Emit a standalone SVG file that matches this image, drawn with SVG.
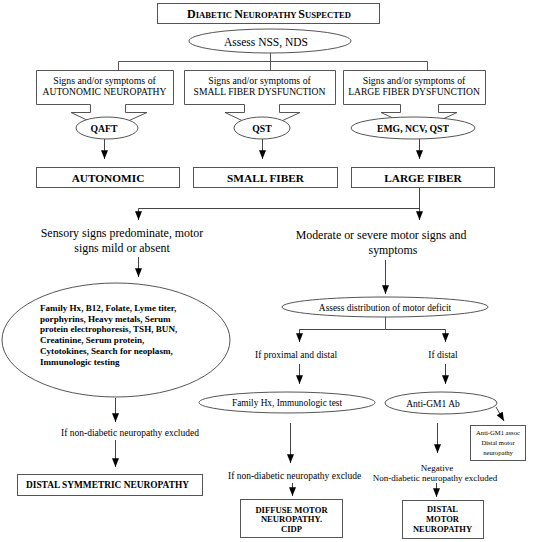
<svg xmlns="http://www.w3.org/2000/svg" width="550" height="542" viewBox="0 0 550 542">
<defs>
<marker id="ah" viewBox="0 0 10 8" markerWidth="9" markerHeight="7" refX="10" refY="4" orient="auto" markerUnits="userSpaceOnUse">
<path d="M0,0 L10,4 L0,8 z" fill="#000"/>
</marker>
</defs>
<style>
.bx{fill:#fff;stroke:#555;stroke-width:1}
.ln{fill:none;stroke:#555;stroke-width:1}
.ar{fill:none;stroke:#444;stroke-width:1;marker-end:url(#ah)}
text{font-family:"Liberation Serif","Times New Roman",serif;fill:#000}
.c{text-anchor:middle}
.b{font-weight:bold}
</style>
<rect width="550" height="542" fill="#fff"/>

<g id="connectors">
<path class="ln" d="M270.5,53 V70"/>
<path class="ln" d="M118.5,70 V61.5 H427.5 V70"/>
<path class="ar" d="M104.5,139 V159"/>
<path class="ar" d="M262.5,139 V159"/>
<path class="ar" d="M419.5,139 V159"/>
<path class="ar" d="M419.5,187 V220"/>
<path class="ar" d="M419.5,208.5 H138.5 V220"/>
<path class="ar" d="M138.5,257 V277"/>
<path class="ar" d="M385.5,260 V294"/>
<path class="ln" d="M385.5,317 V329.5"/>
<path class="ar" d="M385.5,329.5 H299.5 V342"/>
<path class="ar" d="M385.5,329.5 H445.5 V342"/>
<path class="ar" d="M299.5,364 V384"/>
<path class="ar" d="M445.5,364 V384"/>
<path class="ar" d="M115.5,398 V422"/>
<path class="ar" d="M115.5,440 V467"/>
<path class="ar" d="M290.5,423 V463"/>
<path class="ar" d="M292.5,483 V496"/>
<path class="ar" d="M437.5,423 V453"/>
<path class="ar" d="M436.5,483 V497"/>
<path class="ar" d="M496,407 L504,421"/>
</g>

<g id="n-suspected">
<rect class="bx" x="157.5" y="3.5" width="222" height="20"/>
<text class="c b" x="269" y="17.5"><tspan font-size="12">D</tspan><tspan font-size="8.6">IABETIC </tspan><tspan font-size="12">N</tspan><tspan font-size="8.6">EUROPATHY </tspan><tspan font-size="12">S</tspan><tspan font-size="8.6">USPECTED</tspan></text>
</g>

<g id="n-assess">
<ellipse class="bx" cx="270" cy="41" rx="81" ry="12"/>
<text class="c" x="266" y="45.5" font-size="11.5">Assess NSS, NDS</text>
</g>

<g id="n-autonomic-signs">
<path class="bx" d="M36.5,70.5 H173.5 V104.5 H125.5 V112.5 H147 L108,130 L71,112.5 H90.5 V104.5 H36.5 Z"/>
<text class="c" x="104.5" y="83.5" font-size="9.8">Signs and/or symptoms of</text>
<text class="c" x="104.5" y="95" font-size="9.6">AUTONOMIC NEUROPATHY</text>
</g>

<g id="n-small-signs">
<path class="bx" d="M184.5,70.5 H335.5 V104.5 H279.5 V112.5 H300 L262,130 L225,112.5 H244.5 V104.5 H184.5 Z"/>
<text class="c" x="259.5" y="83.5" font-size="9.8">Signs and/or symptoms of</text>
<text class="c" x="259.5" y="95" font-size="9.6">SMALL FIBER DYSFUNCTION</text>
</g>

<g id="n-large-signs">
<path class="bx" d="M343.5,70.5 H485.5 V104.5 H438.5 V112.5 H457 L419,130 L381,112.5 H400.5 V104.5 H343.5 Z"/>
<text class="c" x="414" y="83.5" font-size="9.8">Signs and/or symptoms of</text>
<text class="c" x="414" y="95" font-size="9.6">LARGE FIBER DYSFUNCTION</text>
</g>

<g id="n-qaft">
<ellipse class="bx" cx="107" cy="128" rx="31" ry="11"/>
<text class="c b" x="104" y="131.5" font-size="9.7">QAFT</text>
</g>
<g id="n-qst">
<ellipse class="bx" cx="262" cy="128" rx="28" ry="11"/>
<text class="c b" x="262" y="131.5" font-size="9.7">QST</text>
</g>
<g id="n-emg">
<ellipse class="bx" cx="413" cy="128" rx="62" ry="11"/>
<text class="c b" x="413" y="131.5" font-size="9.7">EMG, NCV, QST</text>
</g>

<g id="n-autonomic">
<rect class="bx" x="36.5" y="167.5" width="143" height="20"/>
<text class="c b" x="108" y="181.5" font-size="11.3">AUTONOMIC</text>
</g>
<g id="n-small">
<rect class="bx" x="193.5" y="167.5" width="144" height="20"/>
<text class="c b" x="265.5" y="181.5" font-size="11.3">SMALL FIBER</text>
</g>
<g id="n-large">
<rect class="bx" x="351.5" y="167.5" width="143" height="20"/>
<text class="c b" x="423" y="181.5" font-size="11.3">LARGE FIBER</text>
</g>

<g id="n-sensory">
<text class="c" x="122" y="237" font-size="11.9">Sensory signs predominate, motor</text>
<text class="c" x="122" y="252" font-size="11.9">signs mild or absent</text>
</g>
<g id="n-motor">
<text class="c" x="381" y="239" font-size="11.9">Moderate or severe motor signs and</text>
<text class="c" x="393" y="254" font-size="11.9">symptoms</text>
</g>

<g id="n-tests">
<ellipse class="bx" cx="116" cy="340" rx="114" ry="57"/>
<g class="b" font-size="9.1">
<text x="40" y="310.5">Family Hx, B12, Folate, Lyme titer,</text>
<text x="40" y="321.5">porphyrins, Heavy metals, Serum</text>
<text x="40" y="332">protein electrophoresis, TSH, BUN,</text>
<text x="40" y="342.5">Creatinine, Serum protein,</text>
<text x="40" y="353.5">Cytotokines, Search for neoplasm,</text>
<text x="40" y="364.5">Immunologic testing</text>
</g>
</g>

<g id="n-excl-left">
<text class="c" x="130" y="435.5" font-size="9.5">If non-diabetic neuropathy excluded</text>
</g>
<g id="n-dsn">
<rect class="bx" x="17.5" y="474.5" width="185" height="21"/>
<text class="c b" x="107.5" y="488" font-size="9.4">DISTAL SYMMETRIC NEUROPATHY</text>
</g>

<g id="n-distribution">
<ellipse class="bx" cx="385" cy="307" rx="103" ry="10"/>
<text class="c" x="385" y="310.5" font-size="9.4">Assess distribution of motor deficit</text>
</g>
<g id="n-proximal">
<text class="c" x="296" y="357.5" font-size="9.5">If proximal and distal</text>
</g>
<g id="n-distal">
<text class="c" x="443" y="357.5" font-size="9.5">If distal</text>
</g>

<g id="n-familyhx">
<ellipse class="bx" cx="287" cy="402.5" rx="88" ry="10.5"/>
<text class="c" x="287" y="406" font-size="9.3">Family Hx, Immunologic test</text>
</g>
<g id="n-antigm1">
<ellipse class="bx" cx="441" cy="403" rx="56" ry="11"/>
<text class="c" x="433" y="406.5" font-size="9.5">Anti-GM1  Ab</text>
</g>
<g id="n-antigm1-assoc">
<rect class="bx" x="470.5" y="425.5" width="55" height="35"/>
<text class="c" x="498" y="434.5" font-size="6.6">Anti-GM1 assoc</text>
<text class="c" x="498" y="444.5" font-size="6.6">Distal motor</text>
<text class="c" x="498" y="454.5" font-size="6.6">neuropathy</text>
</g>

<g id="n-excl-mid">
<text x="228" y="478.5" font-size="9.5">If non-diabetic neuropathy exclude</text>
</g>
<g id="n-excl-right">
<text class="c" x="437" y="470.5" font-size="9">Negative</text>
<text class="c" x="435" y="480.5" font-size="9">Non-diabetic neuropathy excluded</text>
</g>

<g id="n-diffuse">
<rect class="bx" x="240.5" y="499.5" width="102" height="38"/>
<text class="c b" x="291.5" y="512.5" font-size="8.6">DIFFUSE MOTOR</text>
<text class="c b" x="291.5" y="522" font-size="8.6">NEUROPATHY.</text>
<text class="c b" x="291.5" y="531.5" font-size="8.6">CIDP</text>
</g>
<g id="n-dmn">
<rect class="bx" x="402.5" y="500.5" width="81" height="38"/>
<text class="c b" x="442.5" y="511.5" font-size="8.5">DISTAL</text>
<text class="c b" x="442.5" y="521.5" font-size="8.5">MOTOR</text>
<text class="c b" x="442.5" y="531.5" font-size="8.5">NEUROPATHY</text>
</g>
</svg>
